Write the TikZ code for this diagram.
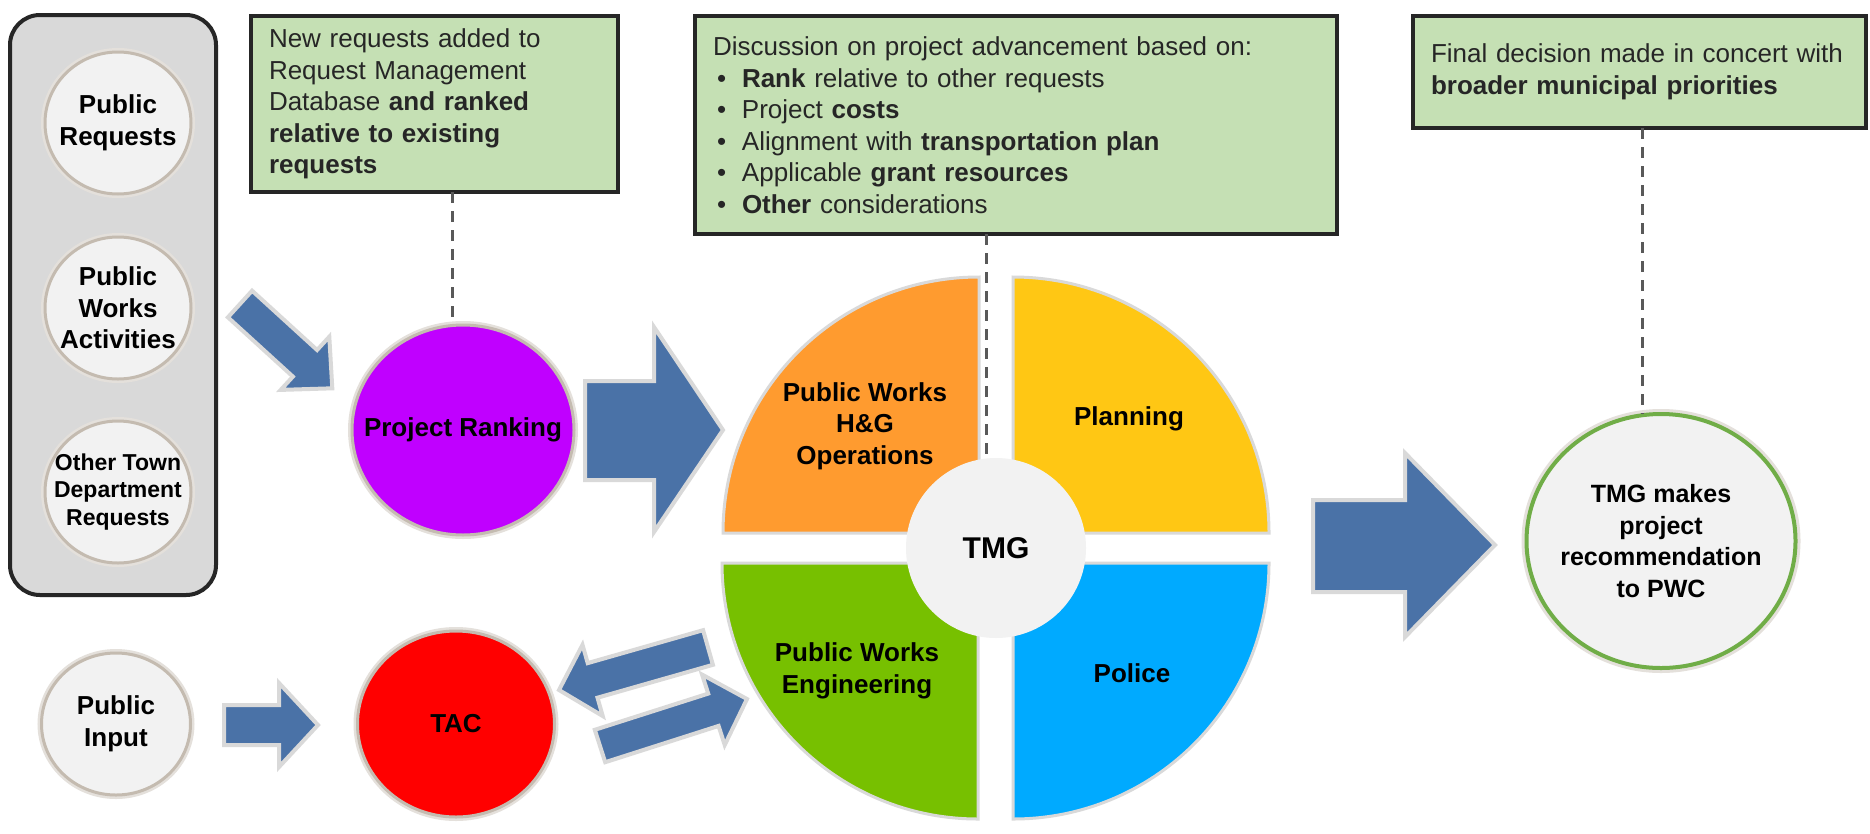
\documentclass[tikz,border=0pt]{standalone}
\usepackage{fontspec}
\setmainfont{Liberation Sans}
\usepackage{tikz}
\usetikzlibrary{shapes.geometric}

\definecolor{boxgray}{HTML}{D9D9D9}
\definecolor{edgedark}{HTML}{262626}
\definecolor{notegreen}{HTML}{C5E0B4}
\definecolor{notetext}{HTML}{262626}
\definecolor{bubblefill}{HTML}{F2F2F2}
\definecolor{halo}{HTML}{C4BBB0}
\definecolor{rankpurple}{HTML}{C000FF}
\definecolor{tacred}{HTML}{FF0000}
\definecolor{opsorange}{HTML}{FF9B2F}
\definecolor{planyellow}{HTML}{FFC714}
\definecolor{enggreen}{HTML}{77C000}
\definecolor{policeblue}{HTML}{00AAFF}
\definecolor{arrowblue}{HTML}{4A72A7}
\definecolor{arrowedge}{HTML}{D9D9D9}
\definecolor{recgreen}{HTML}{70AD47}
\definecolor{dashgray}{HTML}{595959}

\begin{document}
\begin{tikzpicture}[x=1pt, y=-1pt,
  every node/.style={inner sep=0pt, outer sep=0pt},
  group/.style={rectangle, rounded corners=30pt, fill=boxgray, draw=edgedark, line width=4pt},
  note/.style={rectangle, fill=notegreen, draw=edgedark, line width=4pt, anchor=north west, align=left, inner xsep=18pt, text=notetext, font=\fontsize{26pt}{31.5pt}\selectfont},
  bubble/.style={ellipse, fill=bubblefill, draw=halo, line width=3pt, preaction={draw=halo!45, line width=8pt}},
  bubtext/.style={align=center, font=\bfseries\fontsize{26pt}{31.5pt}\selectfont},
  quadrant/.style={draw=arrowedge, line width=3pt},
  blockarrow/.style={fill=arrowblue, draw=arrowedge, line width=4pt},
  dashline/.style={draw=dashgray, line width=3pt, dash pattern=on 11pt off 8pt}]
\path[use as bounding box, fill=white] (0,0) rectangle (1870,833);

\node[group, minimum width=206pt, minimum height=580pt] (sources) at (113,305) {};
\node[bubble, minimum width=146pt, minimum height=142pt] (req) at (118,123) {};
\node[bubtext] (reqtext) at (req) {Public\\Requests};
\node[bubble, minimum width=146pt, minimum height=142pt] (works) at (118,308) {};
\node[bubtext] (workstext) at (works) {Public\\Works\\Activities};
\node[bubble, minimum width=146pt, minimum height=142pt] (other) at (118,492) {};
\node[bubtext, font=\bfseries\fontsize{23pt}{27.5pt}\selectfont] (othertext) at (other) {Other Town\\Department\\Requests};
\node[bubble, minimum width=149pt, minimum height=142pt] (input) at (116,724) {};
\node[bubtext] (inputtext) at (input) {Public\\Input};

\node[bubble, fill=rankpurple, minimum width=222pt, minimum height=210pt] (rank) at (463,430) {};
\node[bubtext] (ranktext) at (rank) {Project Ranking};
\node[bubble, fill=tacred, minimum width=197pt, minimum height=186pt] (tac) at (456,724) {};
\node[bubtext] (tactext) at (tac) {TAC};

\node[note, text width=331pt, minimum height=176pt] (note1) at (251,16) {New requests added to\\Request Management\\Database \textbf{and ranked}\\\textbf{relative to existing}\\\textbf{requests}};
\node[note, text width=606pt, minimum height=218pt] (note2) at (695,16) {Discussion on project advancement based on:\\
\hspace*{4pt}\makebox[25pt][l]{•}\textbf{Rank} relative to other requests\\
\hspace*{4pt}\makebox[25pt][l]{•}Project \textbf{costs}\\
\hspace*{4pt}\makebox[25pt][l]{•}Alignment with \textbf{transportation plan}\\
\hspace*{4pt}\makebox[25pt][l]{•}Applicable \textbf{grant resources}\\
\hspace*{4pt}\makebox[25pt][l]{•}\textbf{Other} considerations};
\node[note, text width=417pt, minimum height=112pt] (note3) at (1413,16) {Final decision made in concert with\\\textbf{broader municipal priorities}};

\draw[quadrant, fill=opsorange] (979,533) -- (723,533) arc[start angle=180, end angle=90, radius=256pt] -- cycle;
\draw[quadrant, fill=planyellow] (1013,533) -- (1013,277) arc[start angle=90, end angle=0, radius=256pt] -- cycle;
\draw[quadrant, fill=enggreen] (978,563) -- (978,819) arc[start angle=270, end angle=180, radius=256pt] -- cycle;
\draw[quadrant, fill=policeblue] (1013,563) -- (1269,563) arc[start angle=0, end angle=-90, radius=256pt] -- cycle;
\node[bubtext] (ops) at (865,426) {Public Works\\H\&G\\Operations};
\node[bubtext] (plan) at (1129,419) {Planning};
\node[bubtext] (eng) at (857,671) {Public Works\\Engineering};
\node[bubtext] (police) at (1132,673) {Police};
\node[circle, fill=bubblefill, minimum size=180pt, font=\bfseries\fontsize{30pt}{36pt}\selectfont] (tmg) at (996,548) {TMG};

\node[ellipse, fill=bubblefill, draw=recgreen, line width=4pt, preaction={draw=halo!45, line width=10pt}, minimum width=269pt, minimum height=254pt] (tmgrec) at (1661,541) {};
\node[bubtext, font=\bfseries\fontsize{25pt}{31.5pt}\selectfont] (rectext) at (tmgrec) {TMG makes\\project\\recommendation\\to PWC};

\draw[blockarrow] (252.1,290.7) -- (317.1,350.0) -- (329.3,336.7) -- (332.3,388.3) -- (280.7,389.9) -- (292.9,376.6) -- (227.9,317.3) -- cycle;
\draw[blockarrow] (585,381) -- (654,381) -- (654,327) -- (723,430) -- (654,532) -- (654,480) -- (585,480) -- cycle;
\draw[blockarrow] (1313,500) -- (1405,500) -- (1405,453) -- (1495,545) -- (1405,637) -- (1405,592) -- (1313,592) -- cycle;
\draw[blockarrow] (224,705) -- (279,705) -- (279,683) -- (318,725) -- (279,767) -- (279,745) -- (224,745) -- cycle;
\draw[blockarrow] (712.9,664.8) -- (597.5,697.7) -- (602.7,716.0) -- (559,690) -- (582.5,644.8) -- (587.7,663.1) -- (703.1,630.2) -- cycle;
\draw[blockarrow] (594.8,729.8) -- (708.2,693.6) -- (702.1,674.6) -- (747,699) -- (724.7,745.0) -- (718.6,725.9) -- (605.2,762.2) -- cycle;

\coordinate (d1) at ([xshift=-11pt]rank.north);
\draw[dashline] (d1 |- note1.south) -- (d1);
\coordinate (d2) at ([xshift=-10pt]tmg.north);
\draw[dashline] (d2 |- note2.south) -- (d2);
\coordinate (d3) at ([xshift=-19pt]tmgrec.north);
\draw[dashline] (d3 |- note3.south) -- (d3);
\end{tikzpicture}
\end{document}
